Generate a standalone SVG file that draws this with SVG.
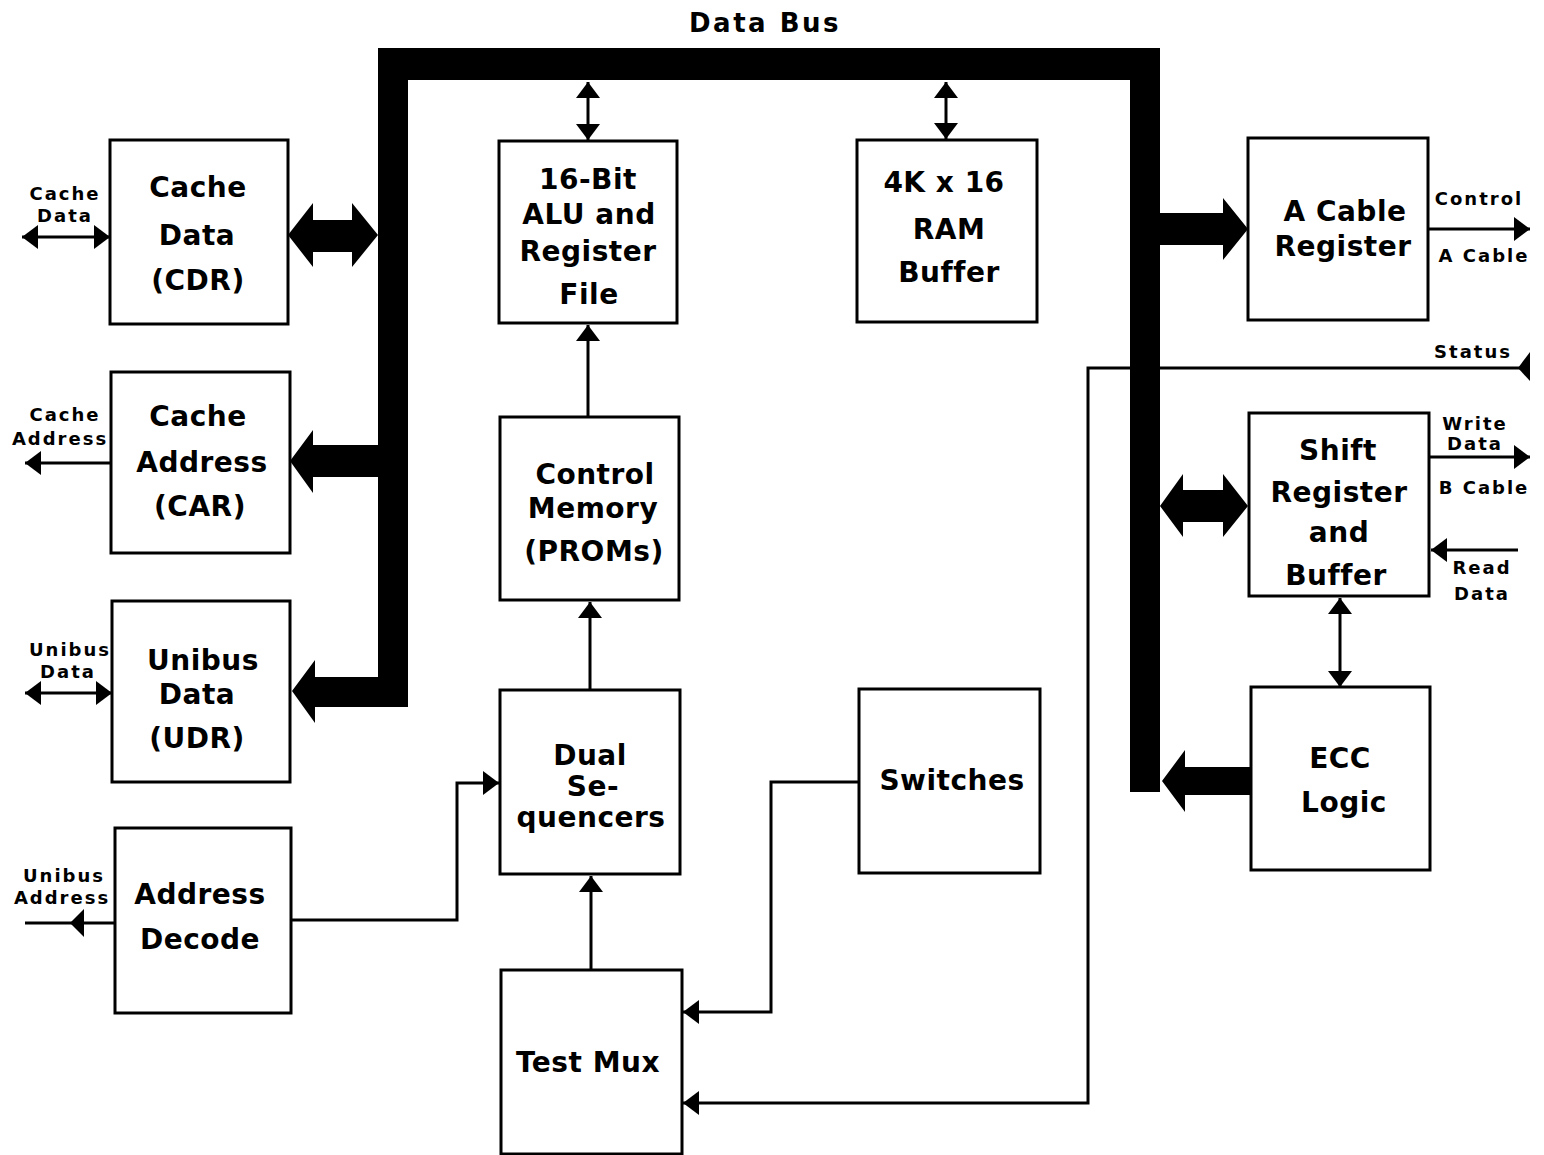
<svg xmlns="http://www.w3.org/2000/svg" width="1544" height="1155" viewBox="0 0 1544 1155">
<style>
.box{fill:#fff;stroke:#000;stroke-width:3}
.t{font-family:"DejaVu Sans","Liberation Sans",sans-serif;font-weight:bold;font-size:28px;text-anchor:middle;letter-spacing:0.5px}
.s{font-family:"DejaVu Sans","Liberation Sans",sans-serif;font-weight:bold;font-size:18px;text-anchor:middle;letter-spacing:2px}
.ln{fill:none;stroke:#000;stroke-width:3}
.thick{fill:#000}
</style>
<defs>
<marker id="ah" viewBox="0 0 16 24" refX="16" refY="12" markerWidth="16" markerHeight="24" markerUnits="userSpaceOnUse" orient="auto-start-reverse">
<path d="M0,0 L16,12 L0,24 Z" fill="#000"/>
</marker>
</defs>

<text class="t" x="765" y="32" style="font-size:26px;letter-spacing:2.5px">Data Bus</text>

<g id="bus">
<path class="thick" d="M378,48 H1160 V792 H1130 V80 H408 V707 H378 Z"/>
</g>

<g id="connectors">
<polygon class="thick" points="288,235 313,203 313,220 352,220 352,203 378,235 352,267 352,252 313,252 313,267"/>
<polygon class="thick" points="290,461 313,430 313,445 378,445 378,477 313,477 313,493"/>
<polygon class="thick" points="292,691 315,660 315,677 378,677 378,707 315,707 315,723"/>
<polygon class="thick" points="1248,229 1223,198 1223,213 1160,213 1160,245 1223,245 1223,260"/>
<polygon class="thick" points="1160,506 1183,474 1183,490 1223,490 1223,474 1248,506 1223,537 1223,522 1183,522 1183,537"/>
<polygon class="thick" points="1162,781 1185,750 1185,767 1251,767 1251,795 1185,795 1185,812"/>
<line class="ln" x1="588" y1="82" x2="588" y2="140" marker-start="url(#ah)" marker-end="url(#ah)"/>
<line class="ln" x1="946" y1="82" x2="946" y2="139" marker-start="url(#ah)" marker-end="url(#ah)"/>
<line class="ln" x1="588" y1="417" x2="588" y2="325" marker-end="url(#ah)"/>
<line class="ln" x1="590" y1="690" x2="590" y2="602" marker-end="url(#ah)"/>
<line class="ln" x1="591" y1="970" x2="591" y2="876" marker-end="url(#ah)"/>
<polyline class="ln" points="291,920 457,920 457,783 499,783" marker-end="url(#ah)"/>
<polyline class="ln" points="859,782 771,782 771,1012 683,1012" marker-end="url(#ah)"/>
<polyline class="ln" points="1530,368 1088,368 1088,1103 683,1103" marker-end="url(#ah)"/>
<polygon class="thick" points="1518,368 1530,352 1530,381"/>
<line class="ln" x1="1340" y1="598" x2="1340" y2="687" marker-start="url(#ah)" marker-end="url(#ah)"/>
<line class="ln" x1="22" y1="237" x2="110" y2="237" marker-start="url(#ah)" marker-end="url(#ah)"/>
<line class="ln" x1="110" y1="463" x2="25" y2="463" marker-end="url(#ah)"/>
<line class="ln" x1="25" y1="693" x2="112" y2="693" marker-start="url(#ah)" marker-end="url(#ah)"/>
<line class="ln" x1="115" y1="923" x2="25" y2="923"/>
<polygon class="thick" points="70,923 84,909 84,937"/>
<line class="ln" x1="1428" y1="229" x2="1530" y2="229" marker-end="url(#ah)"/>
<line class="ln" x1="1429" y1="457" x2="1530" y2="457" marker-end="url(#ah)"/>
<line class="ln" x1="1518" y1="550" x2="1431" y2="550" marker-end="url(#ah)"/>
</g>

<g id="labels">
<text class="s" x="65" y="200">Cache</text>
<text class="s" x="65" y="222">Data</text>
<text class="s" x="65" y="421">Cache</text>
<text class="s" x="60" y="445">Address</text>
<text class="s" x="70" y="656">Unibus</text>
<text class="s" x="68" y="678">Data</text>
<text class="s" x="64" y="882">Unibus</text>
<text class="s" x="62" y="904">Address</text>
<text class="s" x="1479" y="205">Control</text>
<text class="s" x="1484" y="262">A Cable</text>
<text class="s" x="1473" y="358">Status</text>
<text class="s" x="1475" y="430">Write</text>
<text class="s" x="1475" y="450">Data</text>
<text class="s" x="1484" y="494">B Cable</text>
<text class="s" x="1482" y="574">Read</text>
<text class="s" x="1482" y="600">Data</text>
</g>

<g id="cdr">
<rect class="box" x="110" y="140" width="178" height="184"/>
<text class="t" x="198" y="197">Cache</text>
<text class="t" x="197" y="245">Data</text>
<text class="t" x="198" y="290">(CDR)</text>
</g>
<g id="car">
<rect class="box" x="111" y="372" width="179" height="181"/>
<text class="t" x="198" y="426">Cache</text>
<text class="t" x="202" y="472">Address</text>
<text class="t" x="200" y="516">(CAR)</text>
</g>
<g id="udr">
<rect class="box" x="112" y="601" width="178" height="181"/>
<text class="t" x="203" y="670">Unibus</text>
<text class="t" x="197" y="704">Data</text>
<text class="t" x="197" y="748">(UDR)</text>
</g>
<g id="addrdecode">
<rect class="box" x="115" y="828" width="176" height="185"/>
<text class="t" x="200" y="904">Address</text>
<text class="t" x="200" y="949">Decode</text>
</g>
<g id="alu">
<rect class="box" x="499" y="141" width="178" height="182"/>
<text class="t" x="588" y="189">16-Bit</text>
<text class="t" x="589" y="224">ALU and</text>
<text class="t" x="588" y="261">Register</text>
<text class="t" x="589" y="304">File</text>
</g>
<g id="ctrlmem">
<rect class="box" x="500" y="417" width="179" height="183"/>
<text class="t" x="595" y="484">Control</text>
<text class="t" x="593" y="518">Memory</text>
<text class="t" x="594" y="561">(PROMs)</text>
</g>
<g id="dualseq">
<rect class="box" x="500" y="690" width="180" height="184"/>
<text class="t" x="590" y="765">Dual</text>
<text class="t" x="593" y="796">Se-</text>
<text class="t" x="591" y="827">quencers</text>
</g>
<g id="testmux">
<rect class="box" x="501" y="970" width="181" height="184"/>
<text class="t" x="588" y="1072">Test Mux</text>
</g>
<g id="ram">
<rect class="box" x="857" y="140" width="180" height="182"/>
<text class="t" x="944" y="192">4K x 16</text>
<text class="t" x="949" y="239">RAM</text>
<text class="t" x="949" y="282">Buffer</text>
</g>
<g id="switches">
<rect class="box" x="859" y="689" width="181" height="184"/>
<text class="t" x="952" y="790">Switches</text>
</g>
<g id="acable">
<rect class="box" x="1248" y="138" width="180" height="182"/>
<text class="t" x="1345" y="221">A Cable</text>
<text class="t" x="1343" y="256">Register</text>
</g>
<g id="shiftreg">
<rect class="box" x="1249" y="413" width="180" height="183"/>
<text class="t" x="1338" y="460">Shift</text>
<text class="t" x="1339" y="502">Register</text>
<text class="t" x="1339" y="542">and</text>
<text class="t" x="1336" y="585">Buffer</text>
</g>
<g id="ecc">
<rect class="box" x="1251" y="687" width="179" height="183"/>
<text class="t" x="1340" y="768">ECC</text>
<text class="t" x="1344" y="812">Logic</text>
</g>
</svg>
